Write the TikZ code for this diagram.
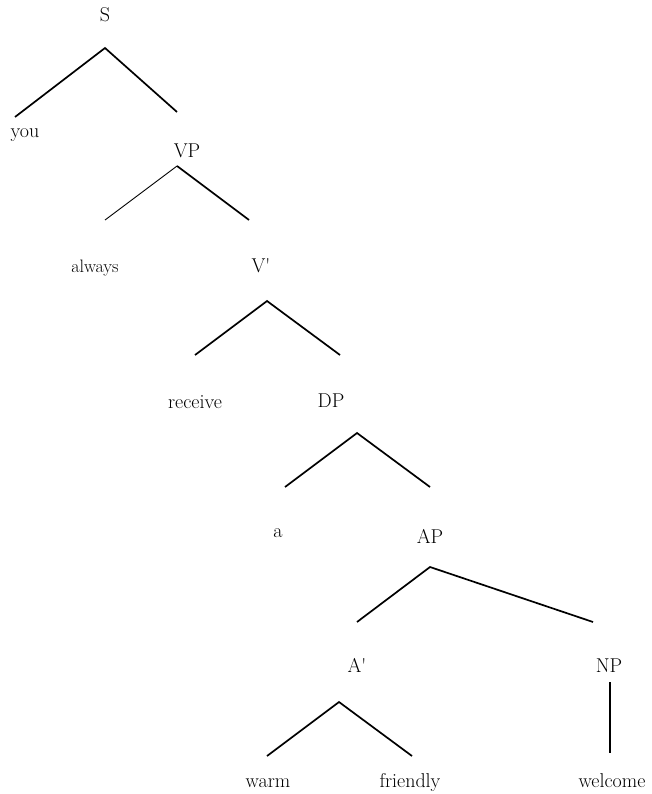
\documentclass[tikz,border=0pt]{standalone}
\begin{document}
\begin{tikzpicture}[x=1pt,y=-1pt,
  lab/.style={anchor=base,inner sep=0pt,font=\fontsize{20}{24}\selectfont},
  smalllab/.style={lab,font=\fontsize{18}{22}\selectfont},
  branch/.style={line width=1.7pt},
  thinbranch/.style={line width=0.9pt}]
\useasboundingbox (0,0) rectangle (652,794);
% labels
\node[lab] (S) at (105,22) {S};
\node[lab] (you) at (25,138) {you};
\node[lab] (VP) at (187,158) {VP};
\node[smalllab] (always) at (95,272) {always};
\node[lab] (Vbar) at (261,272) {V\textquotesingle};
\node[lab] (receive) at (195,408) {receive};
\node[lab] (DP) at (331,407) {DP};
\node[lab] (a) at (278,537) {a};
\node[lab] (AP) at (430,543) {AP};
\node[lab] (Abar) at (357,672) {A\textquotesingle};
\node[lab] (NP) at (609,672) {NP};
\node[lab] (warm) at (268,787) {warm};
\node[lab] (friendly) at (410,787) {friendly};
\node[lab] (welcome) at (612,787) {welcome};
% branch end points
\coordinate (S-t) at (105,48);
\coordinate (S-l) at (15,117);
\coordinate (S-r) at (177,112);
\coordinate (VP-t) at (177,166);
\coordinate (VP-l) at (105,220);
\coordinate (VP-r) at (249,220);
\coordinate (V-t) at (267,301);
\coordinate (V-l) at (195,355);
\coordinate (V-r) at (340,355);
\coordinate (DP-t) at (357,433);
\coordinate (DP-l) at (285,487);
\coordinate (DP-r) at (430,487);
\coordinate (AP-t) at (430,567);
\coordinate (AP-l) at (357,622);
\coordinate (AP-r) at (593,622);
\coordinate (A-t) at (339,702);
\coordinate (A-l) at (267,756);
\coordinate (A-r) at (412,756);
\coordinate (NP-t) at (610,682);
\coordinate (NP-b) at (610,753);
% branches
\draw[branch] (S-l) -- (S-t) -- (S-r);
\draw[thinbranch] (VP-l) -- (VP-t);
\draw[branch] (VP-t) -- (VP-r);
\draw[branch] (V-l) -- (V-t) -- (V-r);
\draw[branch] (DP-l) -- (DP-t) -- (DP-r);
\draw[branch] (AP-l) -- (AP-t) -- (AP-r);
\draw[branch] (A-l) -- (A-t) -- (A-r);
\draw[branch] (NP-t) -- (NP-b);
\end{tikzpicture}
\end{document}
